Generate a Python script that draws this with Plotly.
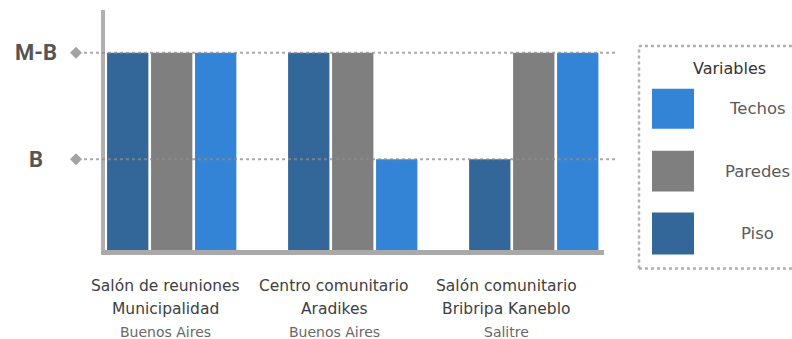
import plotly.graph_objects as go

# --- data -------------------------------------------------------------
sites = ["Salón de reuniones", "Centro comunitario", "Salón comunitario"]
site_names = ["Municipalidad", "Aradikes", "Bribripa Kaneblo"]
site_places = ["Buenos Aires", "Buenos Aires", "Salitre"]

series = ["Piso", "Paredes", "Techos"]
piso = [2, 2, 1]
paredes = [2, 2, 2]
techos = [2, 1, 2]

level_vals = [1, 2]
level_text = ["B", "M-B"]

# --- styling ----------------------------------------------------------
colors = {"Piso": "#336699", "Paredes": "#7f7f7f", "Techos": "#3384d6"}
W, H = 792, 339
L, R, T, B = 105, 188, 10, 88.5
plot_w = W - L - R
TEXT_FONT = "DejaVu Sans, Noto Sans, sans-serif"


def px_x(px):
    """Horizontal pixel -> paper coordinate."""
    return (px - L) / plot_w


def px_y(py):
    """Vertical pixel (from top) -> paper coordinate."""
    plot_h = H - T - B
    return (H - B - py) / plot_h


fig = go.Figure()
for name, vals in zip(series, [piso, paredes, techos]):
    fig.add_trace(go.Bar(
        x=sites, y=vals, name=name,
        marker=dict(color=colors[name], line=dict(width=0)),
        showlegend=False,
    ))

shapes = []
annotations = []

# dotted reference lines with diamond markers for each level
for v, t in zip(level_vals, level_text):
    shapes.append(dict(
        type="line", xref="paper", yref="y",
        x0=px_x(84), x1=px_x(616), y0=v, y1=v,
        line=dict(color="rgba(140,140,140,0.75)", width=2, dash="dot"),
        layer="above",
    ))
    shapes.append(dict(
        type="path", xref="paper", yref="y",
        xsizemode="pixel", ysizemode="pixel",
        xanchor=px_x(76), yanchor=v,
        path="M -6 0 L 0 6 L 6 0 L 0 -6 Z",
        fillcolor="#a3a3a3", line=dict(width=0),
        layer="above",
    ))
    annotations.append(dict(
        xref="paper", yref="y", x=px_x(36), y=v,
        text=t, showarrow=False, xanchor="center", yanchor="middle",
        font=dict(family="Roboto, Liberation Sans, sans-serif",
                  size=22, color="#555555", weight="bold"),
    ))

# category labels (three lines under each group)
label_centers = [165, 334, 506]
for cx, a, b, c in zip(label_centers, sites, site_names, site_places):
    for text, py, size, color in [(a, 287, 15.5, "#404040"),
                                  (b, 310, 15.5, "#404040"),
                                  (c, 333, 14, "#686868")]:
        annotations.append(dict(
            xref="paper", yref="paper", x=px_x(cx), y=px_y(py),
            text=text, showarrow=False, xanchor="center", yanchor="middle",
            font=dict(family=TEXT_FONT, size=size, color=color),
        ))

# legend frame: open on the right, where it runs off the canvas
frame = dict(color="#b0b0b0", width=2.5, dash="dot")
box_l, box_r, box_t, box_b = px_x(639), px_x(792), px_y(46), px_y(269)
for x0, y0, x1, y1 in [(box_l, box_t, box_r, box_t),
                       (box_l, box_b, box_r, box_b),
                       (box_l, box_b, box_l, box_t)]:
    shapes.append(dict(type="line", xref="paper", yref="paper",
                       x0=x0, y0=y0, x1=x1, y1=y1, line=frame))

annotations.append(dict(
    xref="paper", yref="paper", x=px_x(729), y=px_y(69),
    text="Variables", showarrow=False, xanchor="center", yanchor="middle",
    font=dict(family=TEXT_FONT, size=16, color="#333333"),
))
legend_rows = [("Techos", 89, 129), ("Paredes", 151, 192), ("Piso", 213, 255)]
for name, top, bot in legend_rows:
    shapes.append(dict(
        type="rect", xref="paper", yref="paper",
        x0=px_x(652), x1=px_x(694), y0=px_y(bot), y1=px_y(top),
        fillcolor=colors[name], line=dict(width=0),
    ))
    annotations.append(dict(
        xref="paper", yref="paper", x=px_x(757), y=px_y((top + bot) / 2),
        text=name, showarrow=False, xanchor="center", yanchor="middle",
        font=dict(family=TEXT_FONT, size=16.5, color="#5a5a5a"),
    ))

fig.update_layout(
    width=W, height=H,
    margin=dict(l=L, r=R, t=T, b=B, pad=0),
    paper_bgcolor="white", plot_bgcolor="white",
    barmode="group", bargap=0.271, bargroupgap=0.061,
    shapes=shapes, annotations=annotations,
    showlegend=False,
    xaxis=dict(
        type="category", range=[-0.3685, 2.388],
        showticklabels=False, ticks="", showgrid=False, zeroline=False,
        showline=True, linecolor="#a9a9a9", linewidth=5,
    ),
    yaxis=dict(
        range=[0.148, 2.40],
        showticklabels=False, ticks="", showgrid=False, zeroline=False,
        showline=True, linecolor="#b0b0b0", linewidth=4,
    ),
)

fig.write_html("out.html")
